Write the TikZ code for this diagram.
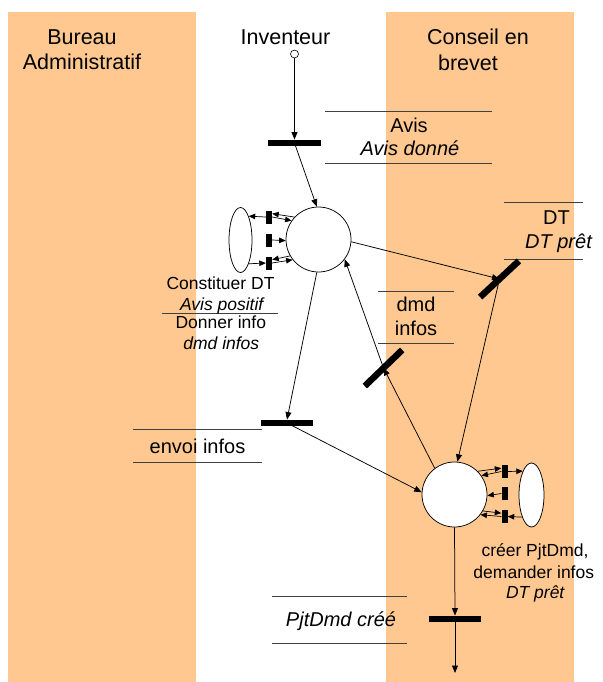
\documentclass[tikz,border=0pt]{standalone}
\usepackage{fontspec}
\setmainfont{Liberation Sans}
\usetikzlibrary{arrows.meta,shapes.geometric,calc}
\definecolor{lane}{RGB}{255,200,145}
\begin{document}
\begin{tikzpicture}[x=1pt,y=-1pt,
  arr/.style={-{Triangle[length=7.5pt,width=6pt]}, line width=0.75pt},
  sarr/.style={-{Triangle[length=6.5pt,width=5.5pt]}, line width=0.7pt},
  place/.style={circle, draw, fill=white, line width=0.75pt, minimum size=65pt, inner sep=0pt},
  res/.style={ellipse, draw, fill=white, line width=0.75pt, inner sep=0pt},
  trans/.style={rectangle, fill=black, inner sep=0pt, minimum width=53pt, minimum height=6.5pt},
  mini/.style={rectangle, fill=black, inner sep=0pt, minimum width=6pt, minimum height=13pt},
  rule/.style={draw=black!75, line width=0.8pt},
  title/.style={font=\fontsize{21.5}{25}\selectfont, anchor=base, inner sep=0pt},
  tlab/.style={font=\fontsize{20}{24}\selectfont, anchor=base, inner sep=0pt},
  plab/.style={font=\fontsize{17.5}{21}\selectfont, anchor=base, inner sep=0pt},
]
\useasboundingbox (0,0) rectangle (602,682);
% swimlanes
\fill[lane] (8,12) rectangle (196,682);
\fill[lane] (386,12) rectangle (574,682);

% lane titles
\node[title] (tB1) at (82,45) {Bureau};
\node[title] (tB2) at (82,70) {Administratif};
\node[title] (tI) at (285.5,45) {Inventeur};
\node[title] (tC1) at (478,45) {Conseil en};
\node[title] (tC2) at (468,71) {brevet};

% label rules
\draw[rule] (325,111) -- (492,111);
\draw[rule] (325,163) -- (492,163);
\draw[rule] (504,202) -- (583,202);
\draw[rule] (504,259) -- (583,259);
\draw[rule] (378,291) -- (454,291);
\draw[rule] (378,343) -- (454,343);
\draw[rule] (133,429) -- (262,429);
\draw[rule] (133,462) -- (262,462);
\draw[rule] (272,596) -- (407,596);
\draw[rule] (272,643) -- (407,643);
\draw[rule] (162,313.3) -- (278,313.3);

% labels
\node[tlab] (lAvis) at (409,132) {Avis};
\node[tlab] (lAvisD) at (410,155) {\itshape Avis donné};
\node[tlab] (lDT) at (556.5,224) {DT};
\node[tlab] (lDTp) at (558.5,248) {\itshape DT prêt};
\node[tlab] (lDmd) at (416,311) {dmd};
\node[tlab] (lInf) at (416,335) {infos};
\node[tlab] (lEnv) at (197.5,453) {envoi infos};
\node[tlab] (lPjt) at (341,626) {\itshape PjtDmd créé};
\node[plab] (lC1) at (220.5,289) {Constituer DT};
\node[plab] (lC2) at (221.7,310) {\itshape Avis positif};
\node[plab] (lC3) at (220.8,328) {Donner info};
\node[plab] (lC4) at (221.3,349) {\itshape dmd infos};
\node[plab] (lP1) at (535,556.7) {créer PjtDmd,};
\node[plab] (lP2) at (533.8,578.3) {demander infos};
\node[plab] (lP3) at (535.2,598.3) {\itshape DT prêt};

% net elements
\node[circle, draw, fill=white, minimum size=8pt, inner sep=0pt, line width=0.6pt] (src) at (294.5,54) {};
\node[trans] (T1) at (294.5,143) {};
\node[place] (P1) at (318.5,239.5) {};
\node[res, minimum width=23pt, minimum height=65pt] (E1) at (240.5,240) {};
\node[mini] (b1a) at (269,217) {};
\node[mini] (b1b) at (269,240) {};
\node[mini] (b1c) at (269,263) {};
\node[trans, rotate=43] (TDT) at (499.5,279) {};
\node[trans, rotate=44, minimum width=52pt] (Tdmd) at (383.5,368) {};
\node[trans, minimum width=52pt] (Tenv) at (287,423) {};
\node[place] (P2) at (454.5,494.5) {};
\node[res, minimum width=25pt, minimum height=64pt] (E2) at (531.5,495) {};
\node[mini] (b2a) at (504.5,471.5) {};
\node[mini] (b2b) at (504.5,493.5) {};
\node[mini] (b2c) at (504.5,516.5) {};
\node[trans, minimum width=52pt] (Tbot) at (455,619) {};
\coordinate (end) at (455,673);

% main arcs
\draw[arr] (src.south) -- (src.south |- T1.north);
\draw[arr] (T1.center) -- (P1.93);
\draw[arr] (P1.-93) -- (Tenv.north);
\draw[arr] (Tenv.center) -- (P2.176);
\draw[arr] (P1.-4) -- (TDT.center);
\draw[arr] (TDT.center) -- (P2.85);
\draw[arr] (P2.127) -- (Tdmd.center);
\draw[arr] (Tdmd.center) -- (P1.-37);
\draw[arr] (P2.south) -- (Tbot.north);
\draw[arr] (Tbot.center) -- (end);

% sub-net around P1
\draw[sarr] (b1a.west) -- (E1.71);
\draw[sarr] (P1.137) -- ($(b1a.east)!0.5!(b1a.north east)$);
\draw[sarr] (b1a.east) -- (P1.145);
\draw[sarr] (b1b.east) -- (P1.182);
\draw[sarr] (E1.-71) -- (b1c.west);
\draw[sarr] (P1.-150) -- ($(b1c.east)!0.5!(b1c.north east)$);
\draw[sarr] (b1c.east) -- (P1.-142);

% sub-net around P2
\draw[sarr] (b2a.east) -- (E2.110);
\draw[sarr] (P2.45) -- ($(b2a.west)!0.5!(b2a.north west)$);
\draw[sarr] (b2a.west) -- (P2.35);
\draw[sarr] (b2b.west) -- (P2.-2);
\draw[sarr] (E2.-113) -- (b2c.east);
\draw[sarr] (P2.-30) -- ($(b2c.west)!0.5!(b2c.north west)$);
\draw[sarr] (b2c.west) -- (P2.-38);
\end{tikzpicture}
\end{document}
